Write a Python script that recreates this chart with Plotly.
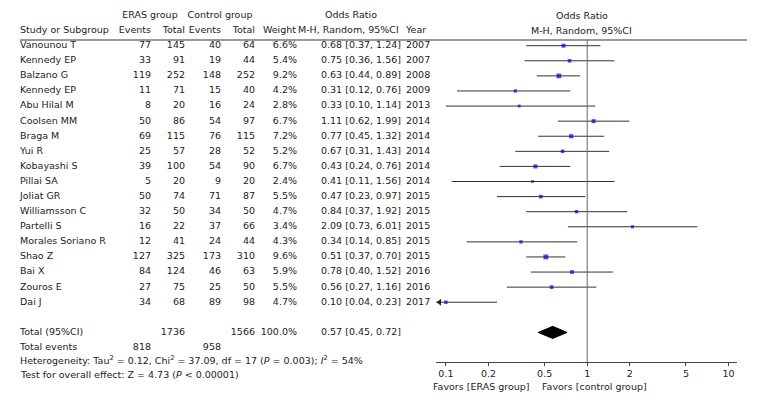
import numpy as np
import plotly.graph_objects as go

# study data
studies = ["Vanounou T", "Kennedy EP", "Balzano G", "Kennedy EP", "Abu Hilal M",
           "Coolsen MM", "Braga M", "Yui R", "Kobayashi S", "Pillai SA", "Joliat GR",
           "Williamsson C", "Partelli S", "Morales Soriano R", "Shao Z", "Bai X",
           "Zouros E", "Dai J"]
eras_events = [77, 33, 119, 11, 8, 50, 69, 25, 39, 5, 50, 32, 16, 12, 127, 84, 27, 34]
eras_total = [145, 91, 252, 71, 20, 86, 115, 57, 100, 20, 74, 50, 22, 41, 325, 124, 75, 68]
ctrl_events = [40, 19, 148, 15, 16, 54, 76, 28, 54, 9, 71, 34, 37, 24, 173, 46, 25, 89]
ctrl_total = [64, 44, 252, 40, 24, 97, 115, 52, 90, 20, 87, 50, 66, 44, 310, 63, 50, 98]
weight = [6.6, 5.4, 9.2, 4.2, 2.8, 6.7, 7.2, 5.2, 6.7, 2.4, 5.5, 4.7, 3.4, 4.3, 9.6, 5.9, 5.5, 4.7]
odds = [0.68, 0.75, 0.63, 0.31, 0.33, 1.11, 0.77, 0.67, 0.43, 0.41, 0.47, 0.84, 2.09, 0.34, 0.51, 0.78, 0.56, 0.10]
ci_low = [0.37, 0.36, 0.44, 0.12, 0.10, 0.62, 0.45, 0.31, 0.24, 0.11, 0.23, 0.37, 0.73, 0.14, 0.37, 0.40, 0.27, 0.04]
ci_high = [1.24, 1.56, 0.89, 0.76, 1.14, 1.99, 1.32, 1.43, 0.76, 1.56, 0.97, 1.92, 6.01, 0.85, 0.70, 1.52, 1.16, 0.23]
years = [2007, 2007, 2008, 2009, 2013, 2014, 2014, 2014, 2014, 2014, 2015, 2015, 2015, 2015, 2015, 2016, 2016, 2017]

total_eras = 1736
total_ctrl = 1566
total_eras_events = 818
total_ctrl_events = 958
pooled_or = 0.57
pooled_low = 0.45
pooled_high = 0.72

x_ticks = [0.1, 0.2, 0.5, 1, 2, 5, 10]

# page body has an 8px margin, so the figure is a bit smaller than the window
OFF = 8
W, H = 764 - OFF, 400 - OFF
FONT = "DejaVu Sans"
FS = 9.5
TXT = "#222222"


def px(p):
    return (p - OFF) / W


def py(p):
    return 1 - (p - OFF) / H


n = len(studies)
rows = list(range(n))
total_row = n + 1
events_row = n + 2

# y axis in row units: row 0 at 45.7 px on the page, rows 15.1 px apart
ROW0, ROWH = 45.7, 15.09
AXIS_Y = 362
y_top = (OFF - ROW0) / ROWH
y_bot = (AXIS_Y - ROW0) / ROWH
x_log_range = [-1.07, 1.06]

fig = go.Figure()


# ---- table columns (xaxis2 is in page pixel units) ----
def col(x, y, texts, pos="middle left"):
    fig.add_trace(go.Scatter(
        x=[x] * len(texts), y=y, text=texts, mode="text",
        textposition=pos, textfont=dict(family=FONT, size=FS, color=TXT),
        xaxis="x2", yaxis="y", hoverinfo="skip", showlegend=False,
        cliponaxis=False))


col(20, rows + [total_row, events_row], studies + ["Total (95%CI)", "Total events"], "middle right")
col(151, rows + [events_row], [str(v) for v in eras_events] + [str(total_eras_events)])
col(185, rows + [total_row], [str(v) for v in eras_total] + [str(total_eras)])
col(221, rows + [events_row], [str(v) for v in ctrl_events] + [str(total_ctrl_events)])
col(255, rows + [total_row], [str(v) for v in ctrl_total] + [str(total_ctrl)])
col(297, rows + [total_row], ["%.1f%%" % w for w in weight] + ["100.0%"])
or_txt = ["%.2f [%.2f, %.2f]" % (o, l, h) for o, l, h in zip(odds, ci_low, ci_high)]
or_txt.append("%.2f [%.2f, %.2f]" % (pooled_or, pooled_low, pooled_high))
col(321, rows + [total_row], or_txt, "middle right")
col(406, rows, [str(y) for y in years], "middle right")

# headers
col(20, [-1], ["Study or Subgroup"], "middle right")
col(151, [-1], ["Events"])
col(185, [-1], ["Total"])
col(221, [-1], ["Events"])
col(255, [-1], ["Total"])
col(296, [-1], ["Weight"])
col(298, [-1], ["M-H, Random, 95%CI"], "middle right")
col(406, [-1], ["Year"], "middle right")
col(150, [-2], ["ERAS group"], "middle center")
col(220, [-2], ["Control group"], "middle center")
col(351, [-2], ["Odds Ratio"], "middle center")

# ---- forest plot ----
cx, cy = [], []
for r, lo, hi in zip(rows, ci_low, ci_high):
    cx += [lo, hi, None]
    cy += [r, r, None]
fig.add_trace(go.Scatter(x=cx, y=cy, mode="lines", line=dict(color="#333333", width=1),
                         hoverinfo="skip", showlegend=False))

fig.add_trace(go.Scatter(
    x=odds, y=rows, mode="markers",
    marker=dict(symbol="square", color="#0000e0",
                size=[2 + 0.3 * w for w in weight], line=dict(width=0)),
    showlegend=False))

# arrow where a CI runs off the left edge
x_min = 10 ** x_log_range[0]
off = [r for r, lo in zip(rows, ci_low) if lo < x_min]
fig.add_trace(go.Scatter(
    x=[x_min * 1.06] * len(off), y=off, mode="markers",
    marker=dict(symbol="triangle-left", color="#222222", size=6),
    hoverinfo="skip", showlegend=False))

# pooled diamond
fig.add_trace(go.Scatter(
    x=[pooled_low, pooled_or, pooled_high, pooled_or, pooled_low],
    y=[total_row, total_row - 0.4, total_row, total_row + 0.4, total_row],
    mode="lines", fill="toself", fillcolor="black", line=dict(color="black", width=1),
    hoverinfo="skip", showlegend=False))

# line of no effect
fig.add_shape(type="line", xref="x", yref="y", x0=1, x1=1, y0=-0.38, y1=y_bot,
              line=dict(color="#666666", width=1))
# header rule
fig.add_shape(type="line", xref="paper", yref="y", x0=px(20), x1=px(747), y0=-0.38, y1=-0.38,
              line=dict(color="#777777", width=1.5))

ann = dict(showarrow=False, yanchor="middle", borderpad=0, borderwidth=0,
           font=dict(family=FONT, size=FS, color=TXT))
fig.add_annotation(x=0.485, y=-2, xref="x domain", yref="y", text="Odds Ratio", **ann)
fig.add_annotation(x=0.485, y=-1, xref="x domain", yref="y", text="M-H, Random, 95%CI", **ann)
fig.add_annotation(x=px(20), y=py(360), xref="paper", yref="paper", xanchor="left",
                   text="Heterogeneity: Tau<sup>2</sup> = 0.12, Chi<sup>2</sup> = 37.09, df = 17 "
                        "(<i>P</i> = 0.003); <i>I</i><sup>2</sup> = 54%", **ann)
fig.add_annotation(x=px(20), y=py(374), xref="paper", yref="paper", xanchor="left",
                   text="Test for overall effect: Z = 4.73 (<i>P</i> < 0.00001)", **ann)
fig.add_annotation(x=px(530), y=py(386), xref="paper", yref="paper",
                   text="Favors [ERAS group]", **ann)
fig.add_annotation(x=px(647), y=py(386), xref="paper", yref="paper",
                   text="Favors [control group]", **ann)

fig.update_layout(
    width=W, height=H,
    margin=dict(l=0, r=0, t=0, b=0),
    paper_bgcolor="white", plot_bgcolor="white",
    font=dict(family=FONT, size=FS, color=TXT),
    xaxis=dict(type="log", range=x_log_range, domain=[px(436), px(737)],
               tickvals=x_ticks, ticktext=[str(t) for t in x_ticks],
               showgrid=False, zeroline=False, showline=True, linecolor="#444444",
               ticks="outside", ticklen=3, tickcolor="#444444", anchor="y",
               tickfont=dict(family=FONT, size=FS, color=TXT)),
    xaxis2=dict(range=[OFF, 436], domain=[0, px(436)], visible=False, anchor="y"),
    yaxis=dict(range=[y_bot, y_top], domain=[py(AXIS_Y), 1], visible=False),
)

fig.write_html("out.html")
